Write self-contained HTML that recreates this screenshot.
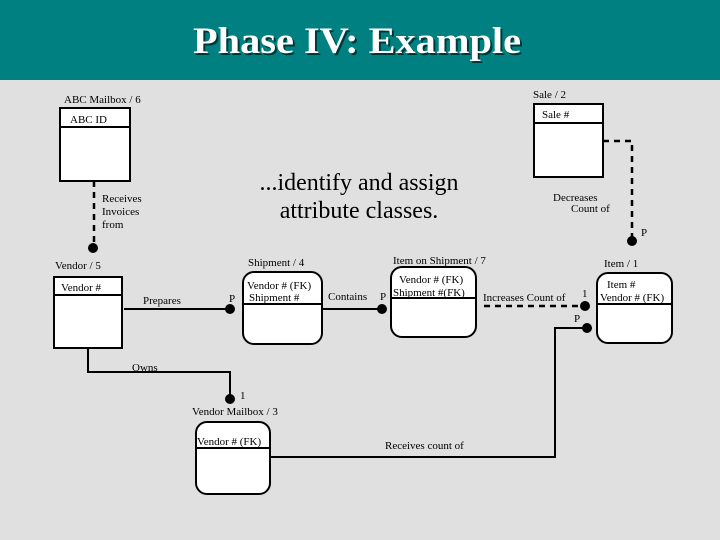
<!DOCTYPE html>
<html><head><meta charset="utf-8"><style>
html,body{margin:0;padding:0;background:#e0e0e0;}
svg{display:block;}
text{font-family:"Liberation Serif",serif;fill:#000;}
.s{font-size:11px;}
</style></head><body>
<svg width="720" height="540" viewBox="0 0 720 540" xmlns="http://www.w3.org/2000/svg">
<rect x="0" y="0" width="720" height="540" fill="#e0e0e0"/>
<rect x="0" y="0" width="720" height="80" fill="#008080"/>
<text x="359" y="55" text-anchor="middle" font-size="37" font-weight="bold" textLength="328" lengthAdjust="spacingAndGlyphs" style="fill:#003838">Phase IV: Example</text>
<text x="357" y="53" text-anchor="middle" font-size="37" font-weight="bold" textLength="328" lengthAdjust="spacingAndGlyphs" style="fill:#fff">Phase IV: Example</text>

<text x="359" y="190" text-anchor="middle" font-size="24" textLength="199" lengthAdjust="spacingAndGlyphs">...identify and assign</text>
<text x="359" y="218" text-anchor="middle" font-size="24">attribute classes.</text>

<g stroke="#000" stroke-width="2" fill="#fff">
<rect x="60" y="108" width="70" height="73"/>
<line x1="60" y1="127" x2="130" y2="127"/>
<rect x="54" y="277" width="68" height="71"/>
<line x1="54" y1="295" x2="122" y2="295"/>
<rect x="534" y="104" width="69" height="73"/>
<line x1="534" y1="123" x2="603" y2="123"/>
<rect x="243" y="272" width="79" height="72" rx="11"/>
<line x1="243" y1="304" x2="322" y2="304"/>
<rect x="391" y="267" width="85" height="70" rx="11"/>
<line x1="391" y1="298" x2="476" y2="298"/>
<rect x="597" y="273" width="75" height="70" rx="11"/>
<line x1="597" y1="304" x2="672" y2="304"/>
<rect x="196" y="422" width="74" height="72" rx="11"/>
<line x1="196" y1="448" x2="270" y2="448"/>
</g>

<g stroke="#000" stroke-width="2.5" fill="none">
<line x1="94" y1="181" x2="94" y2="245" stroke-dasharray="6,5"/>
<polyline points="603,141 632,141 632,238" stroke-dasharray="6,5"/>
<line x1="484" y1="306" x2="583" y2="306" stroke-dasharray="6,5"/>
</g>
<g stroke="#000" stroke-width="2" fill="none">
<line x1="124" y1="309" x2="230" y2="309"/>
<line x1="322" y1="309" x2="382" y2="309"/>
<polyline points="586,328 555,328 555,457 270,457"/>
<polyline points="88,348 88,372 230,372 230,396"/>
</g>
<g fill="#000">
<circle cx="93" cy="248" r="5"/>
<circle cx="632" cy="241" r="5"/>
<circle cx="230" cy="309" r="5"/>
<circle cx="382" cy="309" r="5"/>
<circle cx="585" cy="306" r="5"/>
<circle cx="587" cy="328" r="5"/>
<circle cx="230" cy="399" r="5"/>
</g>

<text class="s" x="64" y="103">ABC Mailbox / 6</text>
<text class="s" x="70" y="123">ABC ID</text>
<text class="s" x="102" y="202">Receives</text>
<text class="s" x="102" y="215">Invoices</text>
<text class="s" x="102" y="228">from</text>
<text class="s" x="55" y="269">Vendor / 5</text>
<text class="s" x="61" y="291">Vendor #</text>
<text class="s" x="143" y="304">Prepares</text>
<text class="s" x="229" y="302">P</text>
<text class="s" x="248" y="266">Shipment / 4</text>
<text class="s" x="247" y="289">Vendor # (FK)</text>
<text class="s" x="249" y="301">Shipment #</text>
<text class="s" x="328" y="300">Contains</text>
<text class="s" x="380" y="300">P</text>
<text class="s" x="393" y="264">Item on Shipment / 7</text>
<text class="s" x="399" y="283">Vendor # (FK)</text>
<text class="s" x="393" y="296">Shipment #(FK)</text>
<text class="s" x="483" y="301">Increases Count of</text>
<text class="s" x="582" y="297">1</text>
<text class="s" x="574" y="322">P</text>
<text class="s" x="604" y="267">Item / 1</text>
<text class="s" x="607" y="288">Item #</text>
<text class="s" x="600" y="301">Vendor # (FK)</text>
<text class="s" x="533" y="98">Sale / 2</text>
<text class="s" x="542" y="118">Sale #</text>
<text class="s" x="553" y="201">Decreases</text>
<text class="s" x="571" y="212">Count of</text>
<text class="s" x="641" y="236">P</text>
<text class="s" x="132" y="371">Owns</text>
<text class="s" x="240" y="399">1</text>
<text class="s" x="192" y="415">Vendor Mailbox / 3</text>
<text class="s" x="197" y="445">Vendor # (FK)</text>
<text class="s" x="385" y="449">Receives count of</text>
</svg>
</body></html>
